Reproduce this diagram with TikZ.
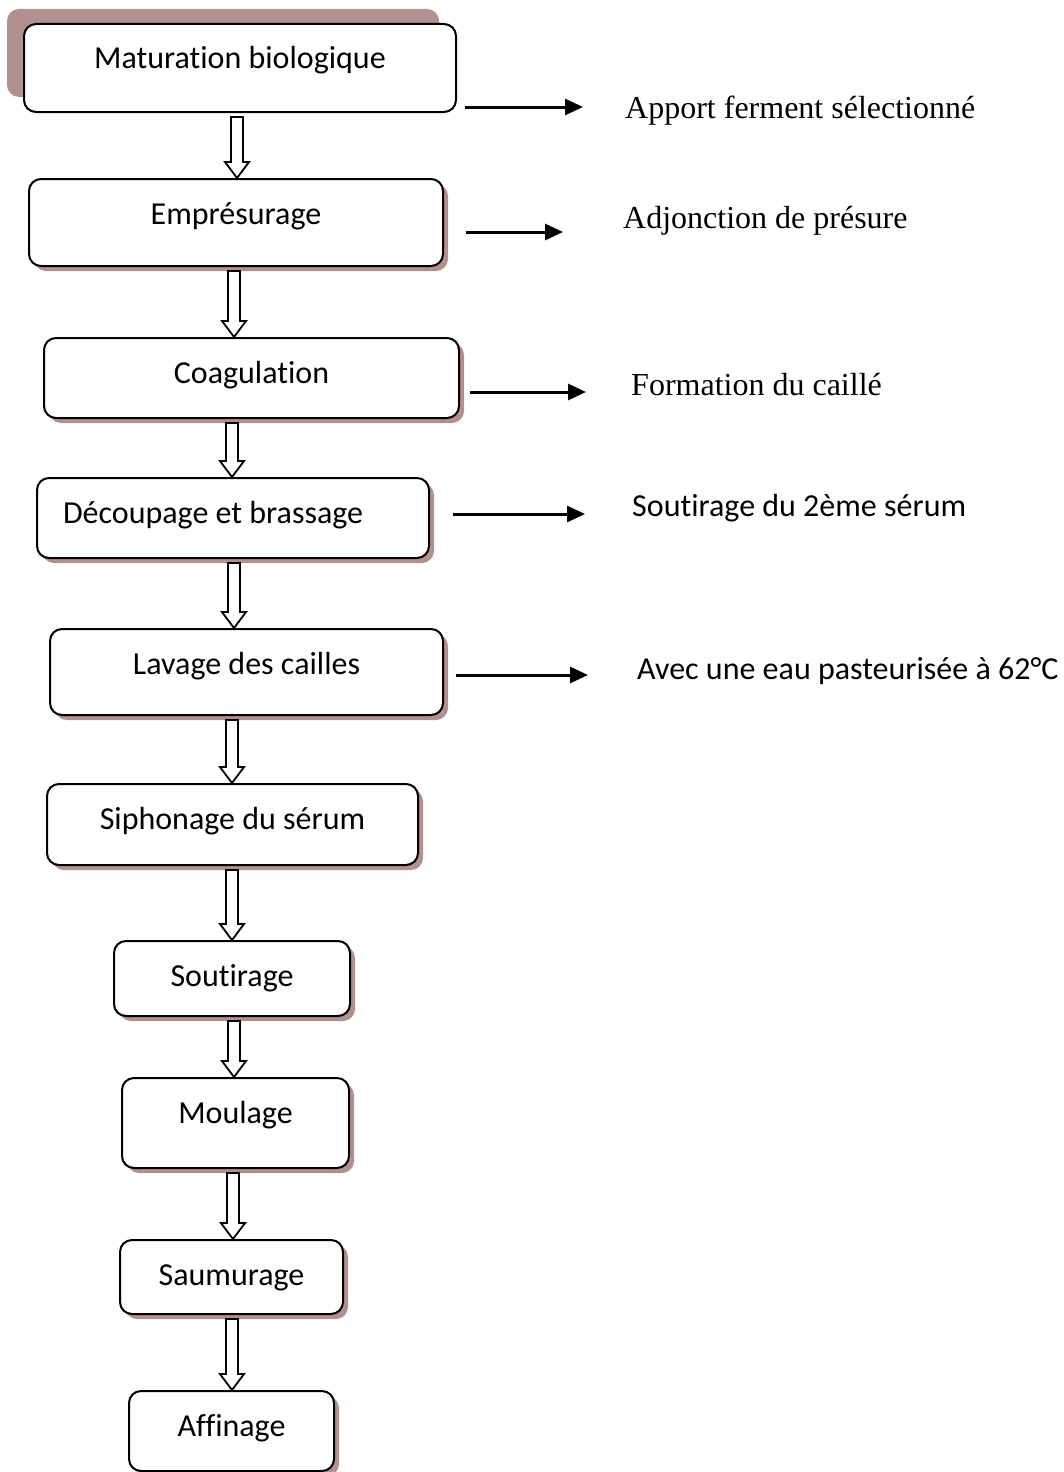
\documentclass[tikz,border=0pt]{standalone}
\usepackage{fontspec}
\setmainfont{Liberation Serif}
\newfontfamily\calibri[Ligatures=NoCommon]{Carlito}
\usetikzlibrary{arrows.meta,calc,shadows}

\definecolor{shadowbrown}{RGB}{178,144,142}

\tikzset{
  stepbox/.style={draw, line width=2pt, rounded corners=12pt, fill=white,
    inner xsep=0pt, inner ysep=0pt, text height=45pt, anchor=north west,
    font=\calibri\fontsize{32}{38}\selectfont},
  boxshadow/.style={drop shadow={shadow xshift=5pt, shadow yshift=-5pt,
    fill=shadowbrown, opacity=1}},
  topshadow/.style={drop shadow={shadow xshift=-17pt, shadow yshift=15pt,
    fill=shadowbrown, opacity=1}},
  blockarrow/.style={draw, line width=1.8pt, fill=white, line join=miter},
  sidearrow/.style={line width=3pt, -{Triangle[length=18pt,width=16pt]}},
  sidetext/.style={anchor=base west, inner sep=0pt,
    font=\fontsize{32}{38}\selectfont},
  sidecalibri/.style={sidetext, font=\calibri\fontsize{32}{38}\selectfont}
}

% open block arrow between two steps, #3 = its x
\newcommand{\flowarrow}[3]{%
  \coordinate (ft) at (#1.south -| #3,0);
  \coordinate (fb) at (#2.north -| #3,0);
  \draw[blockarrow] ($(ft)+(-6,4)$) -- ($(fb)+(-6,-16)$) -- ($(fb)+(-12,-16)$)
    -- (fb) -- ($(fb)+(12,-16)$) -- ($(fb)+(6,-16)$) -- ($(ft)+(6,4)$) -- cycle;}

\begin{document}
\begin{tikzpicture}[x=1pt,y=-1pt]
  \useasboundingbox (0,0) rectangle (1064,1472);

  % steps
  \node[stepbox, topshadow, minimum width=432pt, text depth=43pt] (m1) at (23,23) {Maturation biologique};
  \node[stepbox, boxshadow, minimum width=414pt, text depth=42pt] (m2) at (28,178) {Emprésurage};
  \node[stepbox, boxshadow, minimum width=415pt, text depth=35pt] (m3) at (43,337) {Coagulation};
  \node[stepbox, boxshadow, text width=340pt, inner xsep=26pt, align=flush left, text depth=35pt] (m4) at (36,477) {Découpage et brassage};
  \node[stepbox, boxshadow, minimum width=393pt, text depth=41pt] (m5) at (49,628) {Lavage des cailles};
  \node[stepbox, boxshadow, minimum width=371pt, text depth=36pt] (m6) at (46,783) {Siphonage du sérum};
  \node[stepbox, boxshadow, minimum width=236pt, text depth=30pt] (m7) at (113,940) {Soutirage};
  \node[stepbox, boxshadow, minimum width=227pt, text depth=45pt] (m8) at (121,1077) {Moulage};
  \node[stepbox, boxshadow, minimum width=223pt, text depth=29pt] (m9) at (119,1239) {Saumurage};
  \node[stepbox, boxshadow, minimum width=205pt, text depth=35pt] (m10) at (128,1390) {Affinage};

  % flow
  \foreach \a/\b/\x in {m1/m2/237, m2/m3/234, m3/m4/232, m4/m5/234, m5/m6/232,
                        m6/m7/232, m7/m8/234, m8/m9/233, m9/m10/232}
    \flowarrow{\a}{\b}{\x};

  % side notes
  \node[sidetext] (l1) at (625,118) {Apport ferment sélectionné};
  \node[sidetext] (l2) at (623,228) {Adjonction de présure};
  \node[sidetext] (l3) at (631,395) {Formation du caillé};
  \node[sidecalibri] (l4) at (632,516) {Soutirage du 2ème sérum};
  \node[sidecalibri] (l5) at (637,679) {Avec une eau pasteurisée à 62°C};

  \coordinate (s1) at (465,107);
  \coordinate (s2) at (466,232);
  \coordinate (s3) at (470,392);
  \coordinate (s4) at (453,514);
  \coordinate (s5) at (456,675);
  \foreach \n/\g in {1/42,2/60,3/45,4/47,5/49}
    \draw[sidearrow, shorten >=\g pt] (s\n) -- (s\n -| l\n.west);
\end{tikzpicture}
\end{document}
